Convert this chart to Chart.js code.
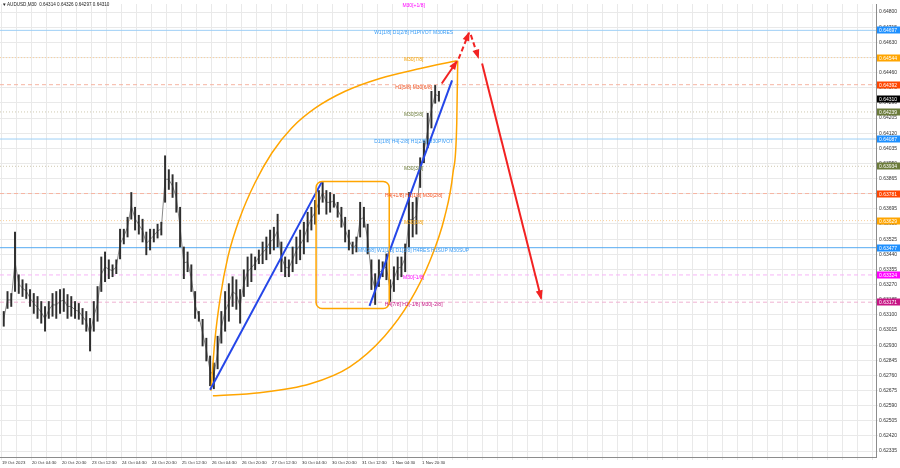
<!DOCTYPE html>
<html lang="en">
<head>
<meta charset="UTF-8">
<title>AUDUSD,M30</title>
<script src="https://cdn.jsdelivr.net/npm/chart.js@4.4.0/dist/chart.umd.min.js"></script>
<style>
  html, body { margin: 0; padding: 0; background: #fff; }
  #wrap { width: 900px; height: 468px; }
</style>
</head>
<body>
<div id="wrap"><canvas id="chart" width="900" height="468"></canvas></div>
<script>
// ---- values ----
const symbol = 'AUDUSD,M30';
const lastOHLC = [0.64314, 0.64326, 0.64297, 0.64310];

// one high/low range every 4 M30 candles (x = candle index 2, 6, 10, ...)
const highs = [
  0.63119, 0.63231, 0.63220, 0.63565, 0.63325, 0.63297, 0.63275, 0.63242, 0.63220, 0.63203,
  0.63175, 0.63147, 0.63175, 0.63220, 0.63231, 0.63242, 0.63247, 0.63214, 0.63203, 0.63175,
  0.63164, 0.63136, 0.63119, 0.63080, 0.63175, 0.63259, 0.63425, 0.63453, 0.63409, 0.63381,
  0.63409, 0.63581, 0.63581, 0.63648, 0.63787, 0.63704, 0.63659, 0.63637, 0.63565, 0.63581,
  0.63581, 0.63609, 0.63620, 0.63993, 0.63915, 0.63887, 0.63843, 0.63704, 0.63481, 0.63453,
  0.63381, 0.63231, 0.63119, 0.63075, 0.62969, 0.62869, 0.62830, 0.62980, 0.63119, 0.63231,
  0.63275, 0.63314, 0.63297, 0.63242, 0.63353, 0.63425, 0.63442, 0.63425, 0.63464, 0.63509,
  0.63537, 0.63576, 0.63592, 0.63665, 0.63509, 0.63425, 0.63409, 0.63481, 0.63537, 0.63576,
  0.63620, 0.63676, 0.63704, 0.63743, 0.63798, 0.63843, 0.63798, 0.63787, 0.63776, 0.63732,
  0.63704, 0.63648, 0.63576, 0.63509, 0.63537, 0.63732, 0.63704, 0.63609, 0.63409, 0.63331,
  0.63409, 0.63398, 0.63442, 0.63297, 0.63370, 0.63425, 0.63425, 0.63498, 0.63787, 0.63732,
  0.63759, 0.63982, 0.64077, 0.64232, 0.64355, 0.64388, 0.64355
];
const lows = [
  0.63036, 0.63136, 0.63147, 0.63231, 0.63220, 0.63203, 0.63192, 0.63147, 0.63108, 0.63080,
  0.63053, 0.63008, 0.63080, 0.63092, 0.63080, 0.63108, 0.63119, 0.63080, 0.63092, 0.63080,
  0.63075, 0.63047, 0.63008, 0.62897, 0.63008, 0.63064, 0.63231, 0.63286, 0.63303, 0.63314,
  0.63331, 0.63414, 0.63498, 0.63537, 0.63637, 0.63576, 0.63553, 0.63509, 0.63437, 0.63464,
  0.63509, 0.63531, 0.63548, 0.63732, 0.63804, 0.63759, 0.63676, 0.63481, 0.63303, 0.63342,
  0.63231, 0.63080, 0.63064, 0.62925, 0.62841, 0.62702, 0.62685, 0.62797, 0.62941, 0.63008,
  0.63064, 0.63147, 0.63131, 0.63053, 0.63203, 0.63259, 0.63286, 0.63353, 0.63387, 0.63387,
  0.63409, 0.63442, 0.63464, 0.63481, 0.63342, 0.63314, 0.63314, 0.63342, 0.63387, 0.63409,
  0.63442, 0.63509, 0.63576, 0.63609, 0.63665, 0.63732, 0.63665, 0.63676, 0.63704, 0.63648,
  0.63592, 0.63509, 0.63464, 0.63442, 0.63453, 0.63537, 0.63592, 0.63442, 0.63242, 0.63158,
  0.63259, 0.63314, 0.63297, 0.63175, 0.63231, 0.63297, 0.63314, 0.63342, 0.63481, 0.63537,
  0.63553, 0.63815, 0.63954, 0.64038, 0.64149, 0.64288, 0.64299
];

// time labels, one every 32 candles
const timeLabels = ['19 Oct 2023', '20 Oct 04:30', '20 Oct 20:30', '23 Oct 12:30', '24 Oct 04:30',
  '24 Oct 20:30', '25 Oct 12:30', '26 Oct 04:30', '26 Oct 20:30', '27 Oct 12:30', '30 Oct 04:30',
  '30 Oct 20:30', '31 Oct 12:30', '1 Nov 04:30', '1 Nov 20:30'];

const priceTicks = [0.64800, 0.64715, 0.64630, 0.64545, 0.64460, 0.64375, 0.64290, 0.64205, 0.64120, 0.64035,
  0.63950, 0.63865, 0.63780, 0.63695, 0.63610, 0.63525, 0.63440, 0.63355, 0.63270, 0.63185,
  0.63100, 0.63015, 0.62930, 0.62845, 0.62760, 0.62675, 0.62590, 0.62505, 0.62420, 0.62335];

// Murrey-style levels
const levelPrices = [0.64850, 0.64697, 0.64544, 0.64392, 0.64239, 0.64087, 0.63934, 0.63781, 0.63629, 0.63477, 0.63324, 0.63171];
const levelTexts = ['M30[+1/8]', 'W1[1/8] D1[2/8] H1PIVOT M30RES', 'M30[7/8]', 'H1[5/8] M30[6/8]', 'M30[5/8]',
  'D1[1/8] H4[-2/8] H1[2/8] M30PIVOT', 'M30[3/8]', 'H4[+1/8] H1[1/8] M30[2/8]', 'M30[1/8]',
  'MN[2/8] W1[1/8] D1[3/8] H4RES H1SUP M30SUP', 'M30[-1/8]', 'H4[7/8] H1[-1/8] M30[-2/8]'];
const levelKinds = ['mag', 'blue', 'orange', 'red', 'olive', 'blue', 'olive', 'red', 'orange', 'blueS', 'mag', 'pink'];

// drawings, in (candle index, price)
const trendUp1 = [[222, 0.62680], [341, 0.63845]];
const trendUp2 = [[392, 0.63150], [480, 0.64416]];
const arcUpper = [[223, 0.62674], [227, 0.62952], [233, 0.63203], [241, 0.63425], [254, 0.63648],
  [270, 0.63843], [288, 0.64010], [309, 0.64149], [334, 0.64260], [366, 0.64355], [403, 0.64427],
  [446, 0.64483], [485, 0.64527]];
const arcLower = [[225, 0.62646], [275, 0.62663], [329, 0.62713], [371, 0.62808], [408, 0.62980],
  [435, 0.63175], [456, 0.63398], [472, 0.63648], [481, 0.63898], [485, 0.64177], [486, 0.64527]];
const boxRange = { from: 335, to: 413, top: 0.63849, bottom: 0.63136 };
const arrowPaths = [
  { pts: [[469, 0.64399], [485, 0.64522]], dashed: false },
  { pts: [[487, 0.64538], [498, 0.64683]], dashed: true },
  { pts: [[500, 0.64672], [508, 0.64544]], dashed: true },
  { pts: [[512, 0.64511], [575, 0.63192]], dashed: false }
];
const labelIdx = 439;

// ---- styles ----
const FONT = "'Liberation Sans', Arial, sans-serif";
const kindStyle = {
  blue:   { line: '#9fd0f6', dash: [],     box: '#1e90ff', text: '#3a9cf5' },
  blueS:  { line: '#56aaf2', dash: [],     box: '#1e90ff', text: '#3a9cf5' },
  orange: { line: '#f9cf9c', dash: [1, 2], box: '#ffa500', text: '#f5a000' },
  red:    { line: '#f6b4a2', dash: [4, 3], box: '#ff4500', text: '#f4501e' },
  olive:  { line: '#cfc9b0', dash: [1, 2], box: '#6b7b3a', text: '#6b7b3a' },
  mag:    { line: '#f7b4f7', dash: [4, 3], box: '#ff00ff', text: '#ff00ff' },
  pink:   { line: '#f0b2d2', dash: [4, 3], box: '#c71585', text: '#c71585' }
};

const toXY = arr => arr.map(p => ({ x: p[0], y: p[1] }));
const gridIdx = [];
for (let v = 0; v <= 928; v += 16) gridIdx.push(v);

const datasets = [];

levelPrices.forEach((p, i) => {
  const st = kindStyle[levelKinds[i]];
  datasets.push({
    type: 'line', data: [{ x: -2, y: p }, { x: 932, y: p }],
    borderColor: st.line, borderWidth: 1, borderDash: st.dash,
    pointRadius: 0, fill: false, order: 10
  });
});

// thin gray path through the middle of each range, then the ranges on top
datasets.push({
  type: 'line',
  data: highs.map((h, i) => ({ x: i * 4 + 2, y: (h + lows[i]) / 2 })),
  borderColor: '#8a8a8a', borderWidth: 1, pointRadius: 0, fill: false, order: 9
});
datasets.push({
  type: 'bar',
  data: highs.map((h, i) => ({ x: i * 4 + 2, y: [lows[i], h] })),
  backgroundColor: '#2e2e2e', barThickness: 1.3, order: 8
});

[arcUpper, arcLower].forEach(a => datasets.push({
  type: 'line', data: toXY(a), borderColor: '#ffa500', borderWidth: 1.5,
  pointRadius: 0, fill: false, cubicInterpolationMode: 'monotone', order: 3
}));

[trendUp1, trendUp2].forEach(t => datasets.push({
  type: 'line', data: toXY(t), borderColor: '#2546e8', borderWidth: 2,
  pointRadius: 0, fill: false, order: 2
}));

arrowPaths.forEach(a => datasets.push({
  type: 'line', data: toXY(a.pts), borderColor: '#f22222', borderWidth: 2,
  borderDash: a.dashed ? [5, 3] : [], pointRadius: 0, fill: false, order: 1, arrow: true
}));

const overlay = {
  id: 'overlay',
  afterDatasetsDraw(chart) {
    const { ctx, scales: { x, y } } = chart;
    ctx.save();
    // orange box
    const bx0 = x.getPixelForValue(boxRange.from), bx1 = x.getPixelForValue(boxRange.to);
    const by0 = y.getPixelForValue(boxRange.top), by1 = y.getPixelForValue(boxRange.bottom);
    ctx.strokeStyle = '#ffa500';
    ctx.lineWidth = 1.5;
    ctx.beginPath();
    ctx.roundRect(bx0, by0, bx1 - bx0, by1 - by0, 6);
    ctx.stroke();
    // arrow heads
    chart.data.datasets.forEach((ds, i) => {
      if (!ds.arrow) return;
      const pts = chart.getDatasetMeta(i).data;
      const a = pts[pts.length - 2], b = pts[pts.length - 1];
      const ang = Math.atan2(b.y - a.y, b.x - a.x);
      const len = 8, w = 3.5;
      const bx = b.x - len * Math.cos(ang), by = b.y - len * Math.sin(ang);
      ctx.fillStyle = ds.borderColor;
      ctx.beginPath();
      ctx.moveTo(b.x + 1.5 * Math.cos(ang), b.y + 1.5 * Math.sin(ang));
      ctx.lineTo(bx + w * Math.sin(ang), by - w * Math.cos(ang));
      ctx.lineTo(bx - w * Math.sin(ang), by + w * Math.cos(ang));
      ctx.closePath();
      ctx.fill();
    });
    ctx.restore();
  },
  afterDraw(chart) {
    const { ctx, scales: { x, y }, chartArea } = chart;
    ctx.save();
    ctx.font = '5px ' + FONT;
    ctx.textBaseline = 'middle';
    // level captions
    ctx.textAlign = 'center';
    const lx = x.getPixelForValue(labelIdx);
    levelPrices.forEach((p, i) => {
      const py = Math.max(2, y.getPixelForValue(p) + 2.5);
      ctx.fillStyle = kindStyle[levelKinds[i]].text;
      ctx.fillText(levelTexts[i], lx, py);
    });
    // price boxes on the right scale
    ctx.textAlign = 'left';
    const boxes = levelPrices.map((p, i) => ({ p, c: kindStyle[levelKinds[i]].box }))
      .filter(b => b.p <= y.max);
    boxes.push({ p: lastOHLC[3], c: '#000000' });
    boxes.forEach(b => {
      const py = Math.round(y.getPixelForValue(b.p));
      ctx.fillStyle = b.c;
      ctx.fillRect(chartArea.right + 1, py - 3.5, 23, 7);
      ctx.fillStyle = '#ffffff';
      ctx.fillText(b.p.toFixed(5), chartArea.right + 3, py + 0.5);
    });
    // title
    ctx.fillStyle = '#222';
    ctx.font = '4.6px ' + FONT;
    ctx.fillText('\u25BC', 2, 5);
    ctx.fillText(symbol + '  ' + lastOHLC.map(v => v.toFixed(5)).join(' '), 7, 5);
    ctx.restore();
  }
};

new Chart(document.getElementById('chart'), {
  type: 'bar',
  data: { datasets },
  options: {
    responsive: false,
    animation: false,
    devicePixelRatio: 1,
    layout: { padding: 0 },
    plugins: { legend: { display: false }, tooltip: { enabled: false } },
    scales: {
      x: {
        type: 'linear', min: -2, max: 932, offset: false,
        afterBuildTicks: s => { s.ticks = gridIdx.map(v => ({ value: v })); },
        afterFit: s => { s.height = 11; },
        grid: { color: '#e9e9e9', offset: false, tickLength: 3 },
        border: { color: '#8c8c8c' },
        ticks: {
          autoSkip: false, maxRotation: 0, minRotation: 0, align: 'start', padding: 0,
          font: { size: 4.3, family: FONT }, color: '#333',
          callback: v => (v % 32 === 0 && timeLabels[v / 32]) ? timeLabels[v / 32] : ''
        }
      },
      y: {
        type: 'linear', position: 'right', min: 0.62302, max: 0.64845, beginAtZero: false,
        afterBuildTicks: s => { s.ticks = priceTicks.map(v => ({ value: v })); },
        afterFit: s => { s.width = 24; },
        grid: { color: '#e9e9e9', tickLength: 2 },
        border: { color: '#8c8c8c' },
        ticks: { padding: 1, font: { size: 5, family: FONT }, color: '#333', callback: v => v.toFixed(5) }
      }
    }
  },
  plugins: [overlay]
});
</script>
</body>
</html>
